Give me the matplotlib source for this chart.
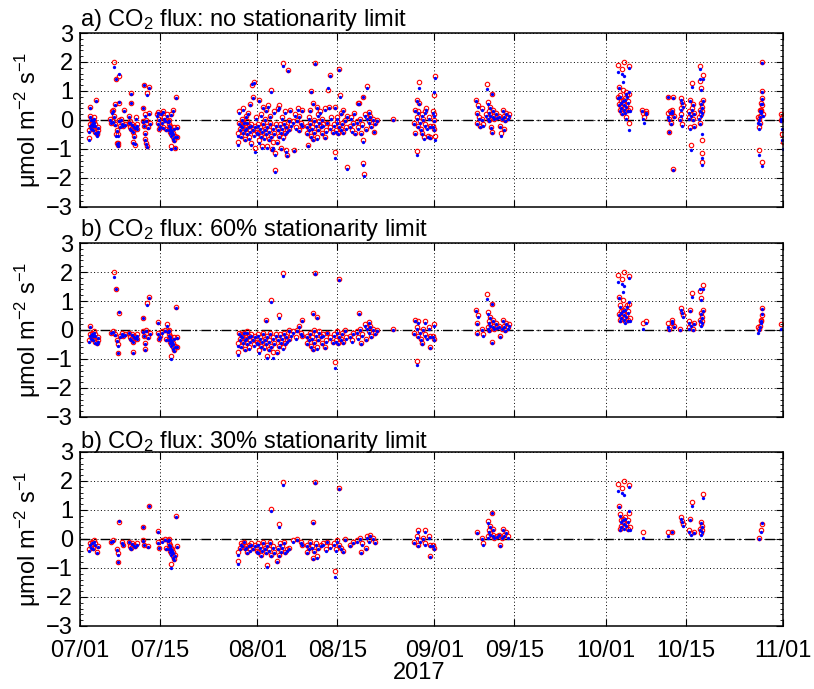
import numpy as np
import matplotlib
matplotlib.use('Agg')
import matplotlib.pyplot as plt
import matplotlib.dates as mdates
from matplotlib.ticker import MultipleLocator
from datetime import datetime, timedelta

plt.rcParams['font.family'] = ['Liberation Sans', 'DejaVu Sans']
plt.rcParams['mathtext.fontset'] = 'custom'
plt.rcParams['mathtext.rm'] = 'Liberation Sans'
plt.rcParams['mathtext.it'] = 'Liberation Sans:italic'

START = datetime(2017, 7, 1)

# days since 07/01 00:00, one entry per half-hour flux kept in the plot
day = [
    # 07/02 - 07/04
    1.5, 1.6, 1.7, 1.7, 1.8, 1.9, 2.0, 2.1, 2.2, 2.3, 2.4, 2.5, 2.6, 2.7, 2.8, 2.9, 3.0, 3.1, 3.2, 2.2,
    # 07/06 - 07/08
    5.3, 5.5, 5.6, 5.7, 5.8, 5.95, 6.0, 6.1, 6.2, 6.3, 6.3, 6.4, 6.5, 6.6, 6.7, 6.8, 6.85, 6.9, 7.0, 7.2,
    7.4, 7.6, 7.7, 7.8, 6.6,
    # 07/09 - 07/11
    8.5, 8.6, 8.7, 8.8, 8.9, 8.9, 9.0, 9.1, 9.2, 9.3, 9.4, 9.5, 9.6, 9.7, 9.8, 9.9, 10.0,
    # 07/12 - 07/13
    11.0, 11.1, 11.2, 11.2, 11.3, 11.4, 11.45, 11.5, 11.6, 11.7, 11.8, 11.9, 12.0, 12.1, 12.2,
    # 07/14 - 07/16
    13.4, 13.6, 13.7, 13.8, 13.9, 14.0, 14.2, 14.3, 14.5, 14.7, 14.9, 15.0, 14.6,
    # 07/16 - 07/18
    15.3, 15.4, 15.5, 15.6, 15.6, 15.7, 15.8, 15.9, 15.9, 16.0, 16.1, 16.2, 16.3, 16.3, 16.4, 16.5, 16.6,
    16.8, 16.9, 17.0, 16.0, 16.7,
    # 07/28 - 07/31
    27.6, 27.7, 27.8, 27.9, 28.0, 28.1, 28.2, 28.3, 28.4, 28.5, 28.6, 28.7, 28.8, 28.9, 29.0, 29.1, 29.2,
    29.3, 29.4, 29.5, 29.6, 29.7, 29.8, 29.9, 30.0, 30.1, 30.2, 30.3, 30.4, 30.5, 30.6, 30.7, 30.8, 30.9,
    # 08/01 - 08/04
    31.1, 31.2, 31.3, 31.4, 31.5, 31.6, 31.7, 31.8, 31.9, 32.0, 32.1, 32.2, 32.3, 32.4, 32.5, 32.6, 32.7,
    32.8, 32.9, 33.0, 33.1, 33.2, 33.3, 33.4, 33.5, 33.6, 33.7, 33.8, 33.9, 34.0, 34.1, 34.2, 34.3,
    # 08/04 - 08/08
    34.5, 34.6, 34.7, 34.8, 34.9, 35.0, 35.1, 35.2, 35.3, 35.4, 35.55, 35.6, 35.7, 35.8, 35.9, 36.0, 36.1,
    36.2, 36.3, 36.4, 36.5, 36.6, 36.8, 37.0, 37.2, 37.4, 37.6, 37.8, 38.0, 38.2, 38.4, 38.6, 38.8, 38.9,
    38.3,
    # 08/09 - 08/14
    39.7, 39.8, 39.9, 40.0, 40.1, 40.2, 40.3, 40.4, 40.5, 40.6, 40.7, 40.8, 40.9, 41.0, 41.2, 41.3, 41.4,
    41.5, 41.6, 41.7, 41.8, 42.0, 42.1, 42.3, 42.4, 42.6, 42.8, 42.9, 43.0, 43.2, 43.4, 43.5, 43.7, 43.8,
    44.0, 44.2,
    # 08/14 - 08/16
    44.5, 44.6, 44.7, 44.8, 44.9, 45.0, 45.1, 45.3, 45.4, 45.5, 45.6, 45.7, 45.8, 46.0, 46.1, 46.3, 46.5,
    46.7, 46.8,
    # 08/17 - 08/22
    47.2, 47.4, 47.6, 47.8, 48.0, 48.2, 48.4, 48.6, 48.7, 48.9, 49.0, 49.2, 49.4, 49.5, 49.6, 49.6, 49.7,
    49.8, 50.0, 50.2, 50.3, 50.5, 50.6, 50.8, 51.0, 51.2, 51.5, 51.7, 52.0,
    # 08/24
    54.8,
    # 08/29 - 09/01
    58.4, 58.6, 58.7, 58.9, 58.9, 59.0, 59.1, 59.2, 59.3, 59.4, 59.5, 59.7, 59.8, 59.9, 60.0, 60.2, 60.3,
    60.4, 60.6, 60.7, 60.9, 61.0, 61.2, 61.3, 61.7, 61.8, 61.9, 62.0, 62.0, 62.1, 62.1, 61.9,
    # 09/08 - 09/14
    69.3, 69.4, 69.5, 69.6, 69.8, 70.0, 70.3, 70.4, 70.5, 71.0, 71.2, 71.3, 71.4, 71.5, 71.6, 71.7, 71.8,
    71.9, 72.0, 72.1, 72.2, 72.3, 72.5, 72.7, 72.9, 73.3, 73.5, 73.6, 73.8, 74.0, 74.2, 74.4, 74.6, 74.8,
    75.0, 74.1,
    # 10/03 - 10/05
    94.1, 94.2, 94.25, 94.3, 94.4, 94.5, 94.6, 94.7, 94.8, 94.9, 95.0, 95.0, 95.1, 95.2, 95.25, 95.3, 95.4,
    95.5, 95.6, 95.7, 95.8, 95.9, 96.0, 96.05, 96.1, 96.15, 95.45,
    # 10/07
    98.4, 98.5, 98.6, 99.0, 99.1,
    # 10/11
    102.8, 102.9, 103.0, 103.1, 103.2, 103.4, 103.5, 103.6, 103.7, 103.8, 103.9,
    # 10/14
    105.0, 105.1, 105.2, 105.3, 105.4, 105.5, 105.2,
    # 10/15
    106.5, 106.6, 106.7, 106.8, 106.85, 106.9, 107.0, 107.1, 107.2, 107.3, 107.4, 107.5,
    # 10/17
    108.3, 108.4, 108.45, 108.5, 108.55, 108.6, 108.65, 108.7, 108.75, 108.8, 108.85, 108.9, 108.9,
    109.0, 109.0,
    # 10/28
    118.7, 118.75, 118.8, 118.85, 118.9, 119.0, 119.05, 119.1, 119.15, 119.2, 119.25, 119.3, 119.3,
    119.35, 119.4, 119.45,
    # 10/31
    122.6, 122.7, 122.8, 122.9, 122.95,
]

# CO2 flux, red circles (umol m-2 s-1)
fc_red = [
    -0.62, -0.35, 0.45, 0.15, -0.15, -0.25, 0.05, -0.10, -0.30, -0.20, 0.10, -0.05, -0.40, -0.15, 0.68, -0.50,
    -0.45, -0.25, -0.35, -0.05,
    0.05, -0.10, 0.30, -0.05, 0.35, 2.00, 0.15, -0.15, 0.55, 1.42, -0.50, -0.80, -0.35, -0.50, -0.78, 1.52,
    0.00, 0.60, -0.20, 0.05, -0.10, -0.20, 0.35, -0.15, -0.85,
    -0.10, 0.15, -0.25, -0.05, 0.93, 0.60, -0.30, -0.15, -0.75, -0.40, -0.20, -0.55, -0.85, -0.25, 0.10,
    -0.30, -0.15,
    -0.05, 0.42, 1.22, -0.20, 0.20, -0.65, -0.45, -0.80, 0.00, -0.90, 0.92, -0.25, 1.13, 0.25, -0.10,
    0.20, -0.10, 0.28, -0.30, 0.05, -0.20, 0.25, -0.05, -0.25, 0.10, 0.00, -0.30, 0.30,
    0.20, -0.05, -0.15, 0.00, -0.30, -0.20, -0.40, -0.88, -0.30, -0.50, -0.35, -0.60, 0.35, -0.45, -0.70,
    -0.25, -0.55, 0.80, -0.60, -0.25, 0.20, -0.95,
    -0.45, -0.75, -0.10, 0.30, -0.30, -0.15, -0.55, 0.05, -0.20, -0.40, 0.40, -0.10, -0.30, -0.65, 0.15,
    -0.25, -0.05, -0.45, 0.25, -0.20, -0.60, -0.35, 0.55, -0.15, -0.80, 1.20, -0.30, 0.80, -0.50, 1.30,
    -0.95, -0.20, 0.10, -0.40,
    -0.15, -0.45, -0.70, 0.70, -0.25, 0.20, -0.55, -0.35, -0.90, 0.45, -0.10, -0.60, -0.30, 0.05, -0.45,
    0.35, -0.90, -0.20, 0.50, -0.65, -0.35, 0.15, -0.10, 1.02, -0.55, -1.00, -0.75, -0.25, 0.30, -0.45,
    -1.15, -1.72, -0.15,
    -0.75, -0.30, 0.40, 0.50, -0.55, -0.15, -0.95, -0.40, 0.10, -0.25, 1.98, -0.60, -0.10, 0.30, -0.45,
    -0.20, -1.05, -0.35, -1.20, 1.72, 0.00, -0.30, 0.35, -0.15, -0.05, -1.05, 0.20, -0.25, 0.00, 0.40,
    0.15, -0.10, 0.35, -0.20, -0.35,
    -0.20, -0.45, -0.85, 0.10, -0.30, -0.10, 0.35, 1.00, -0.55, -0.25, -0.65, 0.60, 0.00, -0.40, 1.95,
    -0.15, 0.45, -0.60, 0.20, -0.30, -0.05, 0.30, -0.20, -0.45, 0.05, -0.15, -0.60, 0.40, -0.35, -0.10,
    1.05, 0.45, 1.55, -0.25, 0.10, -0.40,
    -0.15, 0.45, -1.10, -0.35, 0.10, -0.05, -0.45, 1.75, -0.20, 0.85, 0.25, -0.30, -0.10, 0.35, -0.40,
    0.00, -0.25, -1.62, 0.15,
    -0.20, 0.10, -0.35, -0.10, 0.25, -0.45, -0.05, -0.25, 0.60, 0.58, 0.05, -0.45, -0.15, -0.70, 0.80,
    -1.50, -1.85, 0.20, -0.30, 0.10, 1.18, 0.28, -0.05, 0.15, -0.20, 0.05, -0.40, -0.10, 0.00,
    0.02,
    -0.10, 0.35, -0.45, 0.70, 0.10, -1.08, 0.30, -0.20, 0.60, 1.30, -0.05, -0.30, 0.20, -0.45, 0.05,
    -0.60, 0.30, -0.15, 0.40, -0.25, -0.55, 0.10, -0.20, -0.60, 0.30, -0.20, 0.85, 0.20, -0.30, 1.50,
    -0.55, 0.00,
    0.70, 0.25, -0.10, 0.50, 0.10, -0.20, 0.05, 0.40, -0.15, 0.20, 1.25, 0.10, 0.62, 0.30, 0.00, 0.45,
    0.20, -0.25, 0.90, -0.42, 0.15, 0.35, 0.05, 0.25, 0.10, 0.15, -0.20, -0.45, 0.05, 0.35, 0.15, 0.00,
    0.25, 0.10, 0.20, -0.30,
    0.80, 1.90, 1.15, 0.55, 0.85, 0.35, 0.65, 0.45, 1.75, 0.25, 0.70, 1.05, 0.40, 2.00, 0.55, 0.30, 0.75,
    0.10, 0.50, 0.85, 0.35, 0.65, -0.10, 0.90, 1.85, 0.40, 0.95,
    0.35, 0.25, 0.10, 0.30, 0.25,
    0.25, 0.80, 0.05, -0.40, 0.30, -0.10, 0.25, 0.35, -1.70, 0.78, 0.15,
    0.05, 0.75, 0.40, 0.62, -0.15, 0.50, 0.20,
    0.10, 0.30, -0.25, 0.70, 0.20, -0.85, 0.40, 1.27, 0.05, 0.55, 0.25, -0.20,
    0.10, 1.35, 0.35, 1.85, -0.10, 0.60, 1.10, 0.20, -0.70, 0.45, -1.15, -1.45, 0.30, 1.55, 0.70,
    0.10, 0.05, -0.25, -1.05, 0.35, 0.15, -0.10, 0.30, 0.60, 0.35, 1.00, 2.00, 0.75, 0.50, -1.45, 0.20,
    0.20, 0.00, -0.50, 0.10, -0.75,
]

# CO2 flux, blue dots (umol m-2 s-1)
fc_blue = [
    -0.68, -0.40, 0.40, 0.12, -0.20, -0.30, 0.00, -0.15, -0.35, -0.22, 0.05, -0.10, -0.45, -0.20, 0.65, -0.55,
    -0.48, -0.28, -0.40, -0.02,
    0.00, -0.12, 0.25, -0.08, 0.30, 1.82, 0.10, -0.18, 0.50, 1.40, -0.55, -0.82, -0.38, -0.55, -0.80, 1.58,
    -0.05, 0.62, -0.25, 0.00, -0.15, -0.22, 0.32, -0.18, -0.88,
    -0.12, 0.10, -0.30, -0.10, 0.90, 0.58, -0.35, -0.18, -0.80, -0.42, -0.25, -0.60, -0.83, -0.28, 0.05,
    -0.32, -0.20,
    -0.08, 0.40, 1.20, -0.22, 0.15, -0.70, -0.48, -0.82, -0.02, -0.92, 0.85, -0.28, 1.12, 0.20, -0.15,
    0.15, -0.15, 0.25, -0.32, 0.00, -0.25, 0.22, -0.10, -0.28, 0.05, -0.03, -0.35, 0.27,
    0.15, -0.08, -0.20, -0.02, -0.35, -0.25, -0.45, -1.00, -0.35, -0.55, -0.40, -0.65, 0.32, -0.50, -0.72,
    -0.30, -0.60, 0.75, -0.58, -0.28, 0.18, -0.98,
    -0.55, -0.85, -0.15, 0.25, -0.35, -0.20, -0.60, 0.00, -0.25, -0.45, 0.35, -0.12, -0.35, -0.70, 0.10,
    -0.30, -0.10, -0.50, 0.20, -0.25, -0.65, -0.40, 0.50, -0.20, -0.85, 1.25, -0.35, 0.75, -0.55, 1.28,
    -1.10, -0.25, 0.05, -0.45,
    -0.20, -0.50, -0.78, 0.65, -0.30, 0.15, -0.60, -0.40, -0.95, 0.40, -0.15, -0.65, -0.35, 0.00, -0.50,
    0.32, -0.95, -0.25, 0.45, -0.70, -0.40, 0.10, -0.15, 0.98, -0.60, -1.05, -0.95, -0.30, 0.25, -0.50,
    -1.20, -1.78, -0.20,
    -0.80, -0.35, 0.35, 0.40, -0.60, -0.20, -1.00, -0.45, 0.05, -0.30, 1.85, -0.65, -0.15, 0.25, -0.50,
    -0.25, -1.10, -0.40, -1.25, 1.70, -0.05, -0.35, 0.30, -0.20, -0.10, -1.08, 0.15, -0.30, -0.05, 0.35,
    0.10, -0.15, 0.30, -0.22, -0.38,
    -0.25, -0.50, -0.88, 0.05, -0.35, -0.15, 0.30, 0.98, -0.60, -0.30, -0.70, 0.55, -0.05, -0.45, 1.93,
    -0.20, 0.40, -0.65, 0.15, -0.35, -0.10, 0.25, -0.25, -0.50, 0.00, -0.20, -0.62, 0.35, -0.40, -0.12,
    1.10, 0.40, 1.50, -0.30, 0.05, -0.45,
    -0.20, 0.40, -1.30, -0.40, 0.05, -0.10, -0.50, 1.72, -0.25, 0.80, 0.20, -0.35, -0.15, 0.30, -0.45,
    -0.05, -0.30, -1.68, 0.10,
    -0.25, 0.05, -0.40, -0.15, 0.20, -0.50, -0.10, -0.30, 0.55, 0.55, 0.00, -0.50, -0.20, -0.75, 0.78,
    -1.55, -1.92, 0.15, -0.35, 0.05, 1.12, 0.25, -0.10, 0.10, -0.25, 0.00, -0.42, -0.15, -0.05,
    0.00,
    -0.15, 0.30, -0.50, 0.65, 0.05, -1.20, 0.25, -0.25, 0.55, 1.10, -0.10, -0.35, 0.15, -0.50, 0.00,
    -0.65, 0.25, -0.20, 0.35, -0.30, -0.60, 0.05, -0.25, -0.62, 0.25, -0.25, 0.95, 0.15, -0.35, 1.45,
    -0.70, -0.05,
    0.65, 0.20, -0.15, 0.45, 0.05, -0.25, 0.00, 0.35, -0.20, 0.15, 1.08, 0.05, 0.55, 0.25, -0.02, 0.40,
    0.15, -0.28, 0.88, -0.45, 0.10, 0.30, 0.02, 0.20, 0.08, 0.12, -0.25, -0.55, 0.02, 0.30, 0.10, -0.05,
    0.20, 0.05, 0.15, -0.35,
    0.75, 1.65, 1.10, 0.50, 0.80, 0.30, 0.60, 0.40, 1.60, 0.20, 0.65, 1.30, 0.35, 1.52, 0.50, 0.25, 0.70,
    0.05, 0.45, 0.80, 0.30, 0.60, -0.35, 0.95, 1.80, 0.30, 0.90,
    0.30, 0.05, -0.10, 0.25, 0.20,
    0.10, 0.78, 0.00, -0.40, 0.25, -0.15, 0.25, 0.30, -1.72, 0.75, 0.10,
    0.00, 0.70, 0.35, 0.58, -0.20, 0.45, 0.15,
    0.05, 0.25, -0.30, 0.65, 0.15, -1.05, 0.35, 1.15, 0.00, 0.50, 0.22, -0.25,
    0.05, 1.40, 0.30, 1.75, -0.15, 0.55, 1.05, 0.15, -0.50, 0.40, -1.30, -1.55, 0.25, 1.40, 0.65,
    -0.10, 0.00, -0.30, -1.20, 0.30, 0.10, -0.15, 0.25, 0.55, 0.32, 0.98, 1.95, 0.72, 0.55, -1.60, 0.15,
    0.05, -0.05, -0.70, -0.30, -1.00,
]

# stationarity test: 0 = fails 60%, 1 = passes 60% only, 2 = passes 30%
stat_pass = [
    0, 2, 0, 1, 2, 2, 0, 2, 2, 1, 0, 2, 1, 2, 0, 0, 2, 2, 1, 0,
    0, 2, 0, 2, 0, 1, 0, 1, 0, 1, 0, 0, 2, 2, 2, 0, 0, 2, 1, 0, 2, 2, 0, 1, 0,
    2, 0, 2, 0, 0, 0, 2, 2, 1, 1, 2, 0, 0, 2, 0, 1, 2,
    2, 2, 0, 2, 0, 1, 1, 0, 1, 0, 1, 2, 2, 0, 1,
    0, 2, 2, 2, 0, 1, 0, 2, 0, 0, 2, 2, 0,
    1, 2, 2, 2, 2, 2, 2, 2, 2, 2, 2, 2, 0, 2, 2, 1, 2, 2, 1, 2, 0, 0,
    2, 2, 1, 0, 2, 2, 1, 0, 2, 1, 0, 2, 2, 1, 0, 2, 1, 2, 0, 2, 1, 2, 0, 2, 0, 0, 2, 0, 1, 0, 0, 2, 0, 2,
    2, 2, 1, 0, 2, 0, 2, 2, 0, 0, 2, 1, 2, 0, 2, 1, 2, 2, 0, 1, 2, 0, 2, 2, 2, 0, 1, 2, 0, 2, 0, 0, 1,
    2, 2, 0, 2, 2, 2, 0, 2, 0, 2, 2, 1, 2, 0, 2, 1, 0, 2, 0, 0, 1, 2, 0, 1, 2, 0, 0, 1, 2, 0, 1, 2, 1, 2, 0,
    2, 2, 0, 0, 2, 2, 0, 0, 1, 2, 2, 2, 1, 2, 2, 2, 1, 2, 0, 2, 1, 0, 2, 1, 0, 2, 1, 0, 2, 2, 0, 0, 0, 2,
    0, 1,
    2, 0, 2, 2, 0, 2, 1, 2, 2, 0, 0, 2, 1, 0, 2, 2, 1, 0, 0,
    2, 0, 1, 2, 0, 0, 2, 1, 0, 1, 2, 2, 2, 0, 0, 0, 0, 1, 2, 2, 0, 1, 2, 2, 1, 2, 0, 2, 1,
    1,
    2, 1, 0, 0, 2, 1, 2, 2, 0, 0, 2, 1, 0, 1, 2, 0, 2, 2, 0, 1, 0, 2, 2, 2, 0, 2, 0, 1, 2, 0, 0, 0,
    1, 2, 1, 1, 0, 0, 2, 0, 2, 0, 1, 2, 2, 2, 1, 2, 2, 0, 2, 1, 2, 2, 2, 1, 2, 2, 2, 0, 2, 2, 2, 1, 2, 2,
    1, 0,
    0, 2, 2, 1, 2, 2, 2, 2, 2, 0, 2, 1, 2, 2, 2, 1, 2, 0, 2, 1, 2, 2, 0, 2, 2, 2, 0,
    0, 2, 0, 1, 0,
    2, 0, 1, 0, 0, 0, 2, 1, 0, 0, 1,
    1, 2, 0, 2, 0, 2, 0,
    1, 2, 0, 2, 2, 0, 0, 2, 1, 0, 2, 0,
    0, 1, 2, 0, 0, 2, 1, 2, 0, 2, 0, 0, 2, 2, 1,
    1, 2, 0, 0, 0, 1, 0, 2, 0, 1, 0, 0, 1, 2, 0, 0,
    1, 0, 0, 0, 0,
]

titles = ['a) CO$_2$ flux: no stationarity limit',
          'b) CO$_2$ flux: 60% stationarity limit',
          'b) CO$_2$ flux: 30% stationarity limit']
min_pass = [0, 1, 2]
yticks = [-3, -2, -1, 0, 1, 2, 3]
xtick_dates = [datetime(2017, 7, 1), datetime(2017, 7, 15), datetime(2017, 8, 1),
               datetime(2017, 8, 15), datetime(2017, 9, 1), datetime(2017, 9, 15),
               datetime(2017, 10, 1), datetime(2017, 10, 15), datetime(2017, 11, 1)]


def to_dates(days):
    return np.array([START + timedelta(days=d) for d in days])


def plot_panel(ax, t, red, blue, passed, title, level, show_x):
    '''
    One panel: red open circles, blue dots, zero line and MATLAB-like axes
    '''
    sel = passed >= level
    ax.plot(t[sel], red[sel], 'o', ls='none', mfc='none', mec='r', ms=3.2, mew=0.8)
    ax.plot(t[sel], blue[sel], 'o', ls='none', color='b', ms=2.4, mew=0)
    ax.axhline(0, color='k', ls=(0, (7, 3, 1.5, 3)), lw=1.0, zorder=1)

    ax.set_xlim(xtick_dates[0], xtick_dates[-1])
    ax.set_ylim(-3, 3)
    ax.set_xticks(xtick_dates)
    ax.xaxis.set_major_formatter(mdates.DateFormatter('%m/%d'))
    ax.set_yticks(yticks)
    ax.yaxis.set_minor_locator(MultipleLocator(0.2))
    ax.grid(True, ls=(0, (1, 2.5)), color='k', lw=0.7)
    ax.tick_params(which='major', direction='in', top=True, right=True, length=5,
                   width=0.8, labelsize=17)
    ax.tick_params(axis='x', pad=10)
    ax.tick_params(axis='y', pad=5)
    ax.tick_params(which='minor', direction='in', left=True, right=True, length=2.5, width=0.6)
    for s in ax.spines.values():
        s.set_linewidth(1.1)
    if not show_x:
        ax.tick_params(labelbottom=False)
    ax.set_title(title, loc='left', fontsize=17, pad=3)
    ax.set_ylabel('μmol m$^{-2}$ s$^{-1}$', fontsize=17, labelpad=2)


t = to_dates(day)
red = np.array(fc_red)
blue = np.array(fc_blue)
passed = np.array(stat_pass)

fig = plt.figure(figsize=(8.14, 6.89), dpi=100)
tops = [0.9521, 0.6473, 0.3440]
height = 0.2525
for i in range(3):
    ax = fig.add_axes([0.0983, tops[i] - height, 0.8636, height])
    plot_panel(ax, t, red, blue, passed, titles[i], min_pass[i], i == 2)
    if i == 2:
        ax.set_xlabel('2017', fontsize=17, labelpad=0, x=0.483)

fig.savefig('out.png', dpi=100)
